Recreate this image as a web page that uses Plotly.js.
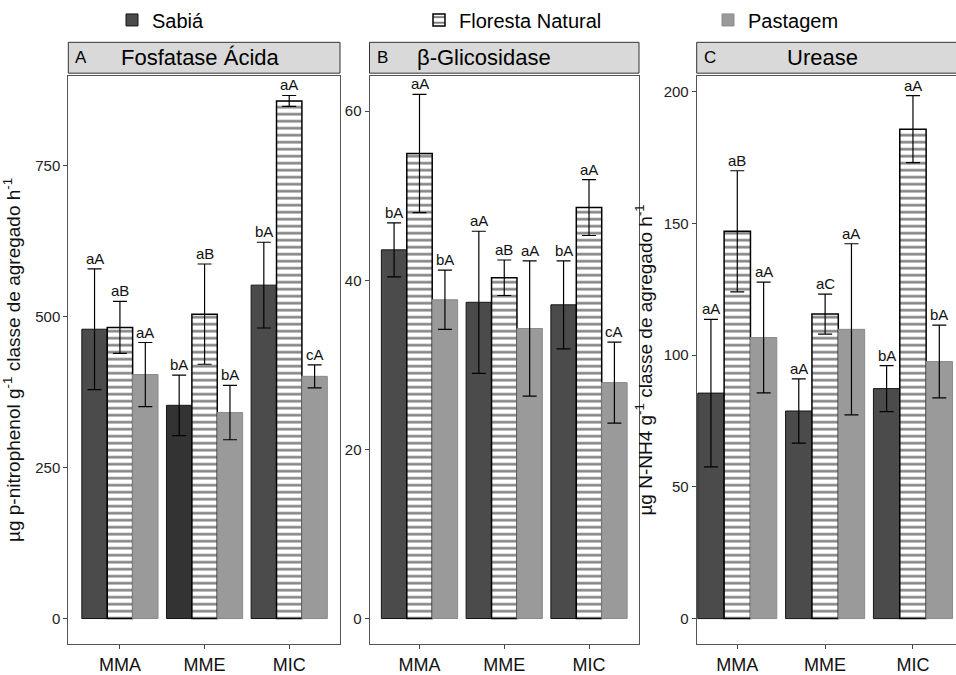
<!DOCTYPE html>
<html>
<head>
<meta charset="utf-8">
<script src="https://cdn.plot.ly/plotly-3.0.1.min.js"></script>
<style>html,body{margin:0;padding:0;background:#fff;}#chart{width:956px;height:675px;}</style>
</head>
<body>
<div id="chart"></div>
<script>
// ---- data ----
const categories = ['MMA', 'MME', 'MIC'];
const seriesNames = ['Sabiá', 'Floresta Natural', 'Pastagem'];
const panelTitles = ['Fosfatase Ácida', 'β-Glicosidase', 'Urease'];
const panelLetters = ['A', 'B', 'C'];
const yTitleA = 'µg p-nitrophenol g<sup>-1</sup> classe de agregado h<sup>-1</sup>';
const yTitleC = 'µg N-NH4 g<sup>-1</sup> classe de agregado h<sup>-1</sup>';

// Fosfatase Ácida
const fosfSabia = [479, 353, 552];
const fosfSabiaErr = [100, 50, 71];
const fosfFloresta = [482, 504, 857];
const fosfFlorestaErr = [43, 83, 9];
const fosfPastagem = [404, 341, 401];
const fosfPastagemErr = [53, 45, 19];
const fosfLabSabia = ['aA', 'bA', 'bA'];
const fosfLabFloresta = ['aB', 'aB', 'aA'];
const fosfLabPastagem = ['aA', 'bA', 'cA'];

// β-Glicosidase
const glicSabia = [43.6, 37.4, 37.1];
const glicSabiaErr = [3.2, 8.4, 5.2];
const glicFloresta = [55.0, 40.3, 48.6];
const glicFlorestaErr = [7.0, 2.1, 3.3];
const glicPastagem = [37.7, 34.3, 27.9];
const glicPastagemErr = [3.5, 8.0, 4.8];
const glicLabSabia = ['bA', 'aA', 'bA'];
const glicLabFloresta = ['aA', 'aB', 'aA'];
const glicLabPastagem = ['bA', 'aA', 'cA'];

// Urease
const ureSabia = [85.6, 78.8, 87.3];
const ureSabiaErr = [28, 12.2, 8.7];
const ureFloresta = [147, 115.6, 185.8];
const ureFlorestaErr = [23, 7.6, 12.7];
const urePastagem = [106.7, 109.8, 97.6];
const urePastagemErr = [21, 32.5, 13.8];
const ureLabSabia = ['aA', 'aA', 'bA'];
const ureLabFloresta = ['aB', 'aC', 'aA'];
const ureLabPastagem = ['aA', 'aA', 'bA'];

// ---- build ----
const W = 956, H = 675;
const FONT = 'Liberation Sans, Arial, sans-serif';
const px = v => v / W;
const py = v => (H - v) / H;

const panels = [
  {means: [fosfSabia, fosfFloresta, fosfPastagem], errs: [fosfSabiaErr, fosfFlorestaErr, fosfPastagemErr],
   labs: [fosfLabSabia, fosfLabFloresta, fosfLabPastagem]},
  {means: [glicSabia, glicFloresta, glicPastagem], errs: [glicSabiaErr, glicFlorestaErr, glicPastagemErr],
   labs: [glicLabSabia, glicLabFloresta, glicLabPastagem]},
  {means: [ureSabia, ureFloresta, urePastagem], errs: [ureSabiaErr, ureFlorestaErr, urePastagemErr],
   labs: [ureLabSabia, ureLabFloresta, ureLabPastagem]}
];

const styles = [
  {marker: {color: '#4b4b4b', line: {color: '#151515', width: 1}}},
  {marker: {color: '#ffffff', line: {color: '#000000', width: 1.5},
            pattern: {shape: '-', fgcolor: '#000000', bgcolor: '#ffffff', size: 7, solidity: 0.36, fillmode: 'overlay'}}},
  {marker: {color: '#9a9a9a', line: {color: '#8a8a8a', width: 1}}}
];
const legendIds = ['legend', 'legend2', 'legend3'];
const offsets = [-0.3, 0, 0.3];

const traces = [];
const annotations = [];
panels.forEach((p, pi) => {
  const ax = pi === 0 ? '' : String(pi + 1);
  for (let s = 0; s < 3; s++) {
    const st = JSON.parse(JSON.stringify(styles[s].marker));
    if (pi === 0 && s === 0) st.color = ['#4b4b4b', '#333333', '#4b4b4b'];
    traces.push({
      type: 'bar', name: seriesNames[s], x: categories, y: p.means[s],
      xaxis: 'x' + ax, yaxis: 'y' + ax,
      marker: st,
      error_y: {type: 'data', array: p.errs[s], visible: true, color: '#000', thickness: 1.2, width: 7},
      showlegend: pi === 0, legend: legendIds[s], legendgroup: seriesNames[s],
      hoverinfo: 'x+y+name'
    });
    for (let c = 0; c < 3; c++) {
      annotations.push({
        xref: 'x' + ax, yref: 'y' + ax, x: c + offsets[s], y: p.means[s][c] + p.errs[s][c],
        text: p.labs[s][c], showarrow: false, yanchor: 'bottom', yshift: 0,
        font: {family: FONT, size: 15, color: '#111'}
      });
    }
  }
});

// panel header texts
const headerBoxes = [[68.3, 340], [369.5, 639], [696.7, 975]];
const titleCenters = [200, 484, 822];
headerBoxes.forEach((b, i) => {
  annotations.push({xref: 'paper', yref: 'paper', x: px(b[0] + 5), y: py(55), xanchor: 'left', yanchor: 'middle',
    text: panelLetters[i], showarrow: false, font: {family: FONT, size: 17, color: '#000'}});
  annotations.push({xref: 'paper', yref: 'paper', x: px(titleCenters[i]), y: py(55), xanchor: 'center', yanchor: 'middle',
    text: panelTitles[i], showarrow: false, font: {family: FONT, size: 22, color: '#000'}});
});

const shapes = headerBoxes.map(b => ({
  type: 'rect', xref: 'paper', yref: 'paper', x0: px(b[0]), x1: px(b[1]), y0: py(70.5), y1: py(39.5),
  fillcolor: '#d9d9d9', line: {color: '#333', width: 1}, layer: 'below'
}));

const yDom = [py(644), py(73)];
const axisCommon = {
  showgrid: false, zeroline: false, showline: true, linecolor: '#555', linewidth: 1,
  ticks: 'outside', ticklen: 4, tickcolor: '#444', automargin: false, fixedrange: true
};
const xCommon = Object.assign({}, axisCommon, {type: 'category', tickfont: {family: FONT, size: 18, color: '#111'}});
const yCommon = Object.assign({}, axisCommon, {tickfont: {family: FONT, size: 15, color: '#222'}});

const legendCommon = {orientation: 'h', yanchor: 'middle', y: py(17), xanchor: 'left',
  font: {family: FONT, size: 20, color: '#000'}, bgcolor: 'rgba(0,0,0,0)', itemwidth: 30, tracegroupgap: 0};

const layout = {
  width: W, height: H, margin: {l: 0, r: 0, t: 0, b: 0},
  paper_bgcolor: '#fff', plot_bgcolor: '#fff',
  barmode: 'group', bargap: 0.1, bargroupgap: 0,
  font: {family: FONT},
  xaxis: Object.assign({}, xCommon, {domain: [px(68.3), px(340)], range: [-0.61, 2.6], anchor: 'y', mirror: true}),
  yaxis: Object.assign({}, yCommon, {domain: yDom, range: [-42.4, 898.8], anchor: 'x', mirror: true,
    tickvals: [0, 250, 500, 750],
    title: {text: yTitleA, font: {family: FONT, size: 19, color: '#111'}, standoff: 10}}),
  xaxis2: Object.assign({}, xCommon, {domain: [px(369.5), px(639)], range: [-0.59, 2.59], anchor: 'y2', mirror: true}),
  yaxis2: Object.assign({}, yCommon, {domain: yDom, range: [-3.03, 64.2], anchor: 'x2', mirror: true,
    tickvals: [0, 20, 40, 60]}),
  xaxis3: Object.assign({}, xCommon, {domain: [px(696.7), 1], range: [-0.462, 2.49], anchor: 'y3', mirror: true}),
  yaxis3: Object.assign({}, yCommon, {domain: yDom, range: [-9.7, 206.1], anchor: 'x3', mirror: false,
    tickvals: [0, 50, 100, 150, 200],
    title: {text: yTitleC, font: {family: FONT, size: 19, color: '#111'}, standoff: 6}}),
  legend: Object.assign({}, legendCommon, {x: px(112)}),
  legend2: Object.assign({}, legendCommon, {x: px(419)}),
  legend3: Object.assign({}, legendCommon, {x: px(708)}),
  annotations: annotations,
  shapes: shapes
};

Plotly.newPlot('chart', traces, layout, {displayModeBar: false, staticPlot: false});
</script>
</body>
</html>
